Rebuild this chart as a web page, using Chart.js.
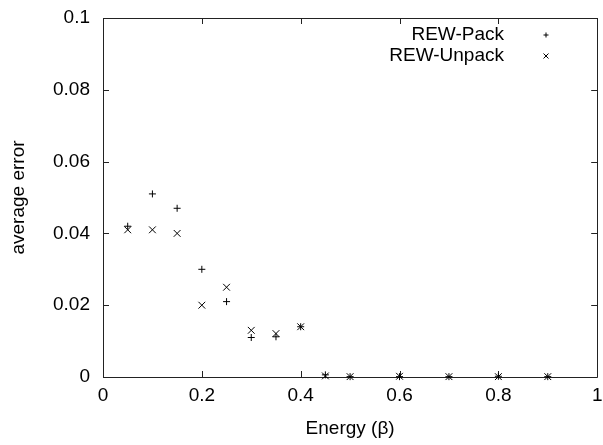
<!DOCTYPE html>
<html>
<head>
<meta charset="utf-8">
<script src="https://cdn.jsdelivr.net/npm/chart.js@4/dist/chart.umd.min.js"></script>
<style>
  html, body { margin: 0; padding: 0; background: #fff; }
  canvas { display: block; }
</style>
</head>
<body>
<canvas id="chart" width="603" height="445"></canvas>
<script>
// energy values (beta) and the two error series
const beta = [0.05, 0.1, 0.15, 0.2, 0.25, 0.3, 0.35, 0.4, 0.45, 0.5, 0.6, 0.7, 0.8, 0.9];
const packErr = [0.042, 0.051, 0.047, 0.030, 0.021, 0.011, 0.0112, 0.014, 0.0006, 0.0001, 0.0001, 0.0001, 0.0002, 0.0001];
const unpackErr = [0.041, 0.041, 0.040, 0.020, 0.025, 0.013, 0.0121, 0.014, 0.0003, 0.0001, 0.0002, 0.0001, 0.0001, 0.0001];
const seriesNames = ["REW-Pack", "REW-Unpack"];
const xTicks = [0, 0.2, 0.4, 0.6, 0.8, 1];
const yTicks = [0, 0.02, 0.04, 0.06, 0.08, 0.1];

const FONT = "'Liberation Sans', Arial, sans-serif";

function toPoints(ys) {
    return beta.map((x, i) => ({ x: x, y: ys[i] }));
}

// gnuplot style box with inward ticks on all four sides
const framePlugin = {
    id: "frame",
    beforeDatasetsDraw(chart) {
        const { ctx, chartArea: a, scales } = chart;
        const len = 6;
        ctx.save();
        ctx.strokeStyle = "#222";
        ctx.lineWidth = 1;
        ctx.beginPath();
        ctx.rect(Math.round(a.left) + 0.5, Math.round(a.top) + 0.5,
                 Math.round(a.right - a.left), Math.round(a.bottom - a.top));
        xTicks.forEach(v => {
            const px = Math.round(scales.x.getPixelForValue(v)) + 0.5;
            ctx.moveTo(px, a.bottom); ctx.lineTo(px, a.bottom - len);
            ctx.moveTo(px, a.top); ctx.lineTo(px, a.top + len);
        });
        yTicks.forEach(v => {
            const py = Math.round(scales.y.getPixelForValue(v)) + 0.5;
            ctx.moveTo(a.left, py); ctx.lineTo(a.left + len, py);
            ctx.moveTo(a.right, py); ctx.lineTo(a.right - len, py);
        });
        ctx.stroke();
        ctx.restore();
    }
};

// legend inside the plot, text right aligned with the marker after it
const keyPlugin = {
    id: "key",
    afterDraw(chart) {
        const { ctx } = chart;
        const textRight = 504, markX = 546, top = 35, step = 21, s = 2.5;
        ctx.save();
        ctx.font = "19px " + FONT;
        ctx.fillStyle = "#000";
        ctx.textAlign = "right";
        ctx.textBaseline = "middle";
        ctx.strokeStyle = "#000";
        ctx.lineWidth = 1;
        seriesNames.forEach((name, i) => {
            const y = top + i * step;
            ctx.fillText(name, textRight, y);
            ctx.beginPath();
            if (i === 0) {
                ctx.moveTo(markX - s, y); ctx.lineTo(markX + s, y);
                ctx.moveTo(markX, y - s); ctx.lineTo(markX, y + s);
            } else {
                ctx.moveTo(markX - s, y - s); ctx.lineTo(markX + s, y + s);
                ctx.moveTo(markX - s, y + s); ctx.lineTo(markX + s, y - s);
            }
            ctx.stroke();
        });
        ctx.restore();
    }
};

new Chart(document.getElementById("chart").getContext("2d"), {
    type: "scatter",
    data: {
        datasets: [{
            label: seriesNames[0],
            data: toPoints(packErr),
            pointStyle: "cross",
            pointRadius: 3.5,
            pointHoverRadius: 3.5,
            borderColor: "#000",
            backgroundColor: "#000",
            pointBorderWidth: 1,
            clip: false
        }, {
            label: seriesNames[1],
            data: toPoints(unpackErr),
            pointStyle: "crossRot",
            pointRadius: 4.8,
            pointHoverRadius: 4.8,
            borderColor: "#000",
            backgroundColor: "#000",
            pointBorderWidth: 1,
            clip: false
        }]
    },
    options: {
        responsive: false,
        animation: false,
        events: [],
        layout: { padding: { top: 18, right: 4, left: 0, bottom: 0 } },
        plugins: {
            legend: { display: false },
            tooltip: { enabled: false }
        },
        scales: {
            x: {
                type: "linear",
                min: 0,
                max: 1,
                afterBuildTicks: s => { s.ticks = xTicks.map(v => ({ value: v })); },
                afterFit: s => { s.height = 68; s.paddingLeft = 0; s.paddingRight = 0; },
                grid: { display: false, drawTicks: false },
                border: { display: false },
                ticks: {
                    padding: 7,
                    color: "#000",
                    font: { family: FONT, size: 19 },
                    maxRotation: 0,
                    callback: v => String(v)
                },
                title: {
                    display: true,
                    text: "Energy (β)",
                    color: "#000",
                    font: { family: FONT, size: 19 },
                    padding: { top: 0, bottom: 5 }
                }
            },
            y: {
                type: "linear",
                min: 0,
                max: 0.1,
                afterBuildTicks: s => { s.ticks = yTicks.map(v => ({ value: v })); },
                afterFit: s => { s.width = 103; s.paddingTop = 0; s.paddingBottom = 0; },
                grid: { display: false, drawTicks: false },
                border: { display: false },
                ticks: {
                    padding: 13,
                    color: "#000",
                    font: { family: FONT, size: 19 },
                    callback: v => String(v)
                },
                title: {
                    display: true,
                    text: "average error",
                    color: "#000",
                    font: { family: FONT, size: 19 },
                    padding: { top: 7, bottom: 0 }
                }
            }
        }
    },
    plugins: [framePlugin, keyPlugin]
});
</script>
</body>
</html>
